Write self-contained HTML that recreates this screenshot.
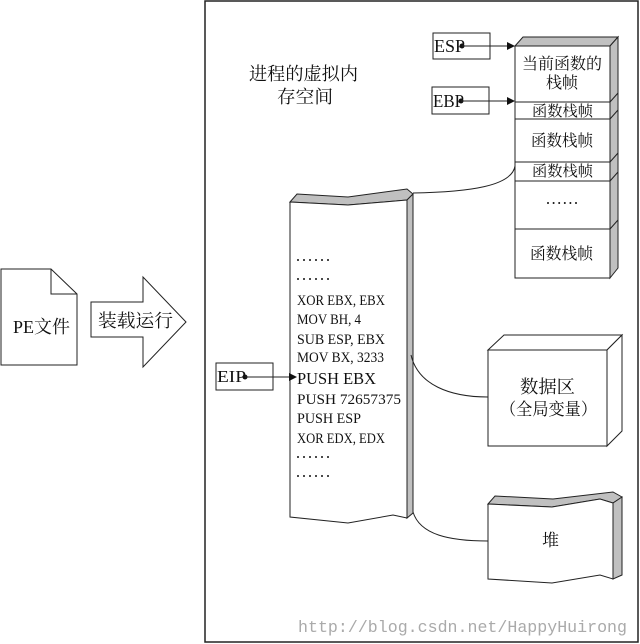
<!DOCTYPE html>
<html><head><meta charset="utf-8"><style>
html,body{margin:0;padding:0;background:#fff;}
svg{display:block;}
.cjk{font-family:"Liberation Serif","Noto Serif CJK SC",serif;fill:#111;}
.lat{font-family:"Liberation Serif","Noto Serif CJK SC",serif;fill:#111;}
</style></head><body>
<svg width="640" height="644" viewBox="0 0 640 644" xmlns="http://www.w3.org/2000/svg">
<rect x="0" y="0" width="640" height="644" fill="#fff"/>
<!-- big process box -->
<rect x="205" y="1" width="433" height="641" fill="none" stroke="#222" stroke-width="1.5"/>

<!-- PE file -->
<polygon points="1,269 51,269 77,294 77,365 1,365" fill="#fff" stroke="#222" stroke-width="1"/>
<polyline points="51,269 51,294 77,294" fill="none" stroke="#222" stroke-width="1"/>
<text class="cjk" x="13" y="333" font-size="18" textLength="57" lengthAdjust="spacingAndGlyphs">PE文件</text>

<!-- load arrow -->
<polygon points="91,302 143,302 143,277 186,322 143,367 143,337 91,337" fill="#fff" stroke="#222" stroke-width="1"/>
<text class="cjk" x="98" y="327" font-size="18" textLength="75" lengthAdjust="spacingAndGlyphs">装载运行</text>

<!-- title -->
<text class="cjk" x="249" y="80" font-size="18" textLength="109" lengthAdjust="spacingAndGlyphs">进程的虚拟内</text>
<text class="cjk" x="277" y="103" font-size="18" textLength="56" lengthAdjust="spacingAndGlyphs">存空间</text>

<!-- stack column -->
<polygon points="515,46 523,37 618,37 610,46" fill="#c0c0c0" stroke="#222" stroke-width="1"/>
<polygon points="610,46 618,37 618,268 610,278" fill="#c0c0c0" stroke="#222" stroke-width="1"/>
<rect x="515" y="46" width="95" height="232" fill="#fff" stroke="#222" stroke-width="1"/>
<g stroke="#222" stroke-width="1">
<line x1="515" y1="102" x2="610" y2="102"/><line x1="610" y1="102" x2="618" y2="93"/>
<line x1="515" y1="119" x2="610" y2="119"/><line x1="610" y1="119" x2="618" y2="110"/>
<line x1="515" y1="162" x2="610" y2="162"/><line x1="610" y1="162" x2="618" y2="153"/>
<line x1="515" y1="181" x2="610" y2="181"/><line x1="610" y1="181" x2="618" y2="172"/>
<line x1="515" y1="229" x2="610" y2="229"/><line x1="610" y1="229" x2="618" y2="220"/>
</g>
<text class="cjk" x="522" y="69" font-size="16" textLength="80" lengthAdjust="spacingAndGlyphs">当前函数的</text>
<text class="cjk" x="546" y="88" font-size="16" textLength="32" lengthAdjust="spacingAndGlyphs">栈帧</text>
<text class="cjk" x="532" y="116" font-size="15" textLength="61" lengthAdjust="spacingAndGlyphs">函数栈帧</text>
<text class="cjk" x="531" y="146" font-size="16" textLength="62" lengthAdjust="spacingAndGlyphs">函数栈帧</text>
<text class="cjk" x="532" y="176" font-size="15" textLength="61" lengthAdjust="spacingAndGlyphs">函数栈帧</text>
<g fill="#111">
<circle cx="548" cy="203" r="1"/><circle cx="553.6" cy="203" r="1"/><circle cx="559.2" cy="203" r="1"/><circle cx="564.8" cy="203" r="1"/><circle cx="570.4" cy="203" r="1"/><circle cx="576" cy="203" r="1"/>
</g>
<text class="cjk" x="530" y="259" font-size="16" textLength="63" lengthAdjust="spacingAndGlyphs">函数栈帧</text>

<!-- ESP / EBP -->
<rect x="433" y="33" width="57" height="26" fill="#fff" stroke="#222" stroke-width="1"/>
<text class="lat" x="434" y="52" font-size="18" textLength="31" lengthAdjust="spacingAndGlyphs">ESP</text>
<circle cx="462" cy="46" r="2.5" fill="#111"/>
<line x1="462" y1="46" x2="508" y2="46" stroke="#222" stroke-width="1"/>
<polygon points="507,42 515,46 507,50" fill="#111"/>

<rect x="432" y="87" width="57" height="27" fill="#fff" stroke="#222" stroke-width="1"/>
<text class="lat" x="433" y="107" font-size="18" textLength="31" lengthAdjust="spacingAndGlyphs">EBP</text>
<circle cx="461" cy="101" r="2.5" fill="#111"/>
<line x1="461" y1="101" x2="508" y2="101" stroke="#222" stroke-width="1"/>
<polygon points="507,97 515,101 507,105" fill="#111"/>

<!-- code column -->
<polygon points="290,202 297,194 348,197 407,189 413,194 407,200 348,205" fill="#c0c0c0" stroke="#222" stroke-width="1"/>
<polygon points="407,200 413,194 413,513 407,518" fill="#c0c0c0" stroke="#222" stroke-width="1"/>
<polygon points="290,202 348,205 407,200 407,518 393,515 348,523 290,517" fill="#fff" stroke="#222" stroke-width="1"/>

<g fill="#111">
<circle cx="298" cy="260" r="1"/><circle cx="304" cy="260" r="1"/><circle cx="310" cy="260" r="1"/><circle cx="316" cy="260" r="1"/><circle cx="322" cy="260" r="1"/><circle cx="328" cy="260" r="1"/>
<circle cx="298" cy="279" r="1"/><circle cx="304" cy="279" r="1"/><circle cx="310" cy="279" r="1"/><circle cx="316" cy="279" r="1"/><circle cx="322" cy="279" r="1"/><circle cx="328" cy="279" r="1"/>
<circle cx="298" cy="457" r="1"/><circle cx="304" cy="457" r="1"/><circle cx="310" cy="457" r="1"/><circle cx="316" cy="457" r="1"/><circle cx="322" cy="457" r="1"/><circle cx="328" cy="457" r="1"/>
<circle cx="298" cy="476" r="1"/><circle cx="304" cy="476" r="1"/><circle cx="310" cy="476" r="1"/><circle cx="316" cy="476" r="1"/><circle cx="322" cy="476" r="1"/><circle cx="328" cy="476" r="1"/>
</g>
<g class="lat" font-size="14.5">
<text x="297" y="305" textLength="88" lengthAdjust="spacingAndGlyphs">XOR  EBX, EBX</text>
<text x="297" y="324" textLength="64" lengthAdjust="spacingAndGlyphs">MOV  BH, 4</text>
<text x="297" y="344" textLength="88" lengthAdjust="spacingAndGlyphs">SUB  ESP, EBX</text>
<text x="297" y="362" textLength="87" lengthAdjust="spacingAndGlyphs">MOV  BX, 3233</text>
<text x="297" y="404" textLength="104" lengthAdjust="spacingAndGlyphs">PUSH  72657375</text>
<text x="297" y="423" textLength="64" lengthAdjust="spacingAndGlyphs">PUSH  ESP</text>
<text x="297" y="443" textLength="88" lengthAdjust="spacingAndGlyphs">XOR  EDX, EDX</text>
</g>
<text class="lat" x="297" y="384" font-size="17" textLength="79" lengthAdjust="spacingAndGlyphs">PUSH  EBX</text>

<!-- EIP -->
<rect x="216" y="363" width="57" height="27" fill="#fff" stroke="#222" stroke-width="1"/>
<text class="lat" x="217" y="382" font-size="17" textLength="29" lengthAdjust="spacingAndGlyphs">EIP</text>
<circle cx="245" cy="377" r="2.5" fill="#111"/>
<line x1="245" y1="377" x2="290" y2="377" stroke="#222" stroke-width="1"/>
<polygon points="289,373 297,377 289,381" fill="#111"/>

<!-- connectors -->
<path d="M413,193 C470,192 512,186 515,166" fill="none" stroke="#222" stroke-width="1"/>
<path d="M411,355 C418,385 450,397 488,397" fill="none" stroke="#222" stroke-width="1"/>
<path d="M413,512 C420,535 450,541 488,541" fill="none" stroke="#222" stroke-width="1"/>

<!-- data area box -->
<polygon points="488,350 504,335 622,335 607,350" fill="#fff" stroke="#222" stroke-width="1"/>
<polygon points="607,350 622,335 622,431 607,446" fill="#fff" stroke="#222" stroke-width="1"/>
<rect x="488" y="350" width="119" height="96" fill="#fff" stroke="#222" stroke-width="1"/>
<text class="cjk" x="520" y="393" font-size="18" textLength="55" lengthAdjust="spacingAndGlyphs">数据区</text>
<text class="cjk" x="500" y="415" font-size="17" textLength="97" lengthAdjust="spacingAndGlyphs">（全局变量）</text>

<!-- heap box -->
<polygon points="488,504 495,496 553,499 613,492 622,497 613,503 600,499 552,507" fill="#c0c0c0" stroke="#222" stroke-width="1"/>
<polygon points="613,503 622,497 622,575 613,579" fill="#c0c0c0" stroke="#222" stroke-width="1"/>
<polygon points="488,504 552,507 600,499 613,503 613,579 600,575 552,583 488,579" fill="#fff" stroke="#222" stroke-width="1"/>
<text class="cjk" x="542" y="546" font-size="17" textLength="17" lengthAdjust="spacingAndGlyphs">堆</text>

<!-- watermark -->
<text x="298" y="632" font-family="Liberation Mono, monospace" font-size="16.6" fill="#aaa" textLength="329" lengthAdjust="spacingAndGlyphs">http://blog.csdn.net/HappyHuirong</text>
</svg>
</body></html>
